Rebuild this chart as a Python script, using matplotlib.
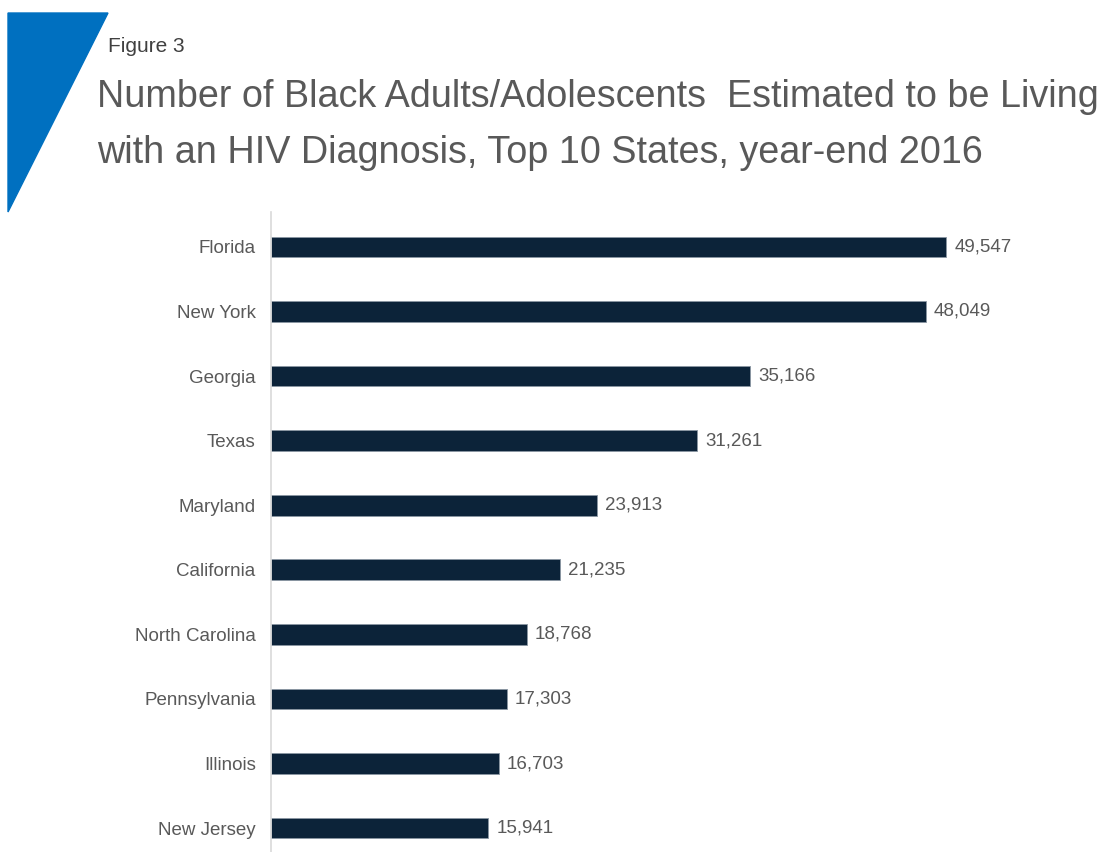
import matplotlib
matplotlib.use("Agg")
import matplotlib.pyplot as plt
from matplotlib.patches import Polygon

states = ["Florida", "New York", "Georgia", "Texas", "Maryland", "California",
          "North Carolina", "Pennsylvania", "Illinois", "New Jersey"]
values = [49547, 48049, 35166, 31261, 23913, 21235, 18768, 17303, 16703, 15941]

plt.rcParams['font.family'] = ['Liberation Sans', 'DejaVu Sans']

fig = plt.figure(figsize=(11.03, 8.52), dpi=100)
W, H = 1103, 852

# blue triangle
tri = Polygon([(8 / W, 1 - 13 / H), (108 / W, 1 - 13 / H), (8 / W, 1 - 212 / H)],
              closed=True, transform=fig.transFigure, color="#0070c0", zorder=0)
fig.patches.append(tri)

fig.text(108 / W, 1 - 47 / H, "Figure 3", fontsize=15, color="#404040",
         va="center", ha="left")
fig.text(97 / W, 1 - 97 / H, "Number of Black Adults/Adolescents  Estimated to be Living",
         fontsize=27.2, color="#595959", va="center", ha="left")
fig.text(97 / W, 1 - 153 / H, "with an HIV Diagnosis, Top 10 States, year-end 2016",
         fontsize=27.2, color="#595959", va="center", ha="left")

xmax = 55000
px_per = (946 - 271) / 49547
ax_w = xmax * px_per
ax = fig.add_axes([271 / W, 0, ax_w / W, 1 - 212 / H])
y = list(range(len(states)))
ax.barh(y, values, height=0.32, color="#0c2339", edgecolor="#8a96a3", linewidth=0.6)
ax.set_xlim(0, xmax)
ax.set_ylim(9.37, -0.54)
ax.set_yticks(y)
ax.set_yticklabels(states, fontsize=13.5, color="#595959")
ax.tick_params(axis="y", length=0, pad=11)
ax.set_xticks([])
for s in ["top", "right", "bottom"]:
    ax.spines[s].set_visible(False)
ax.spines["left"].set_color("#d9d9d9")
ax.spines["left"].set_linewidth(1.2)
for yi, v in zip(y, values):
    ax.text(v + 600, yi, f"{v:,}", va="center", ha="left", fontsize=13.5, color="#595959")

fig.savefig("out.png", dpi=100)
